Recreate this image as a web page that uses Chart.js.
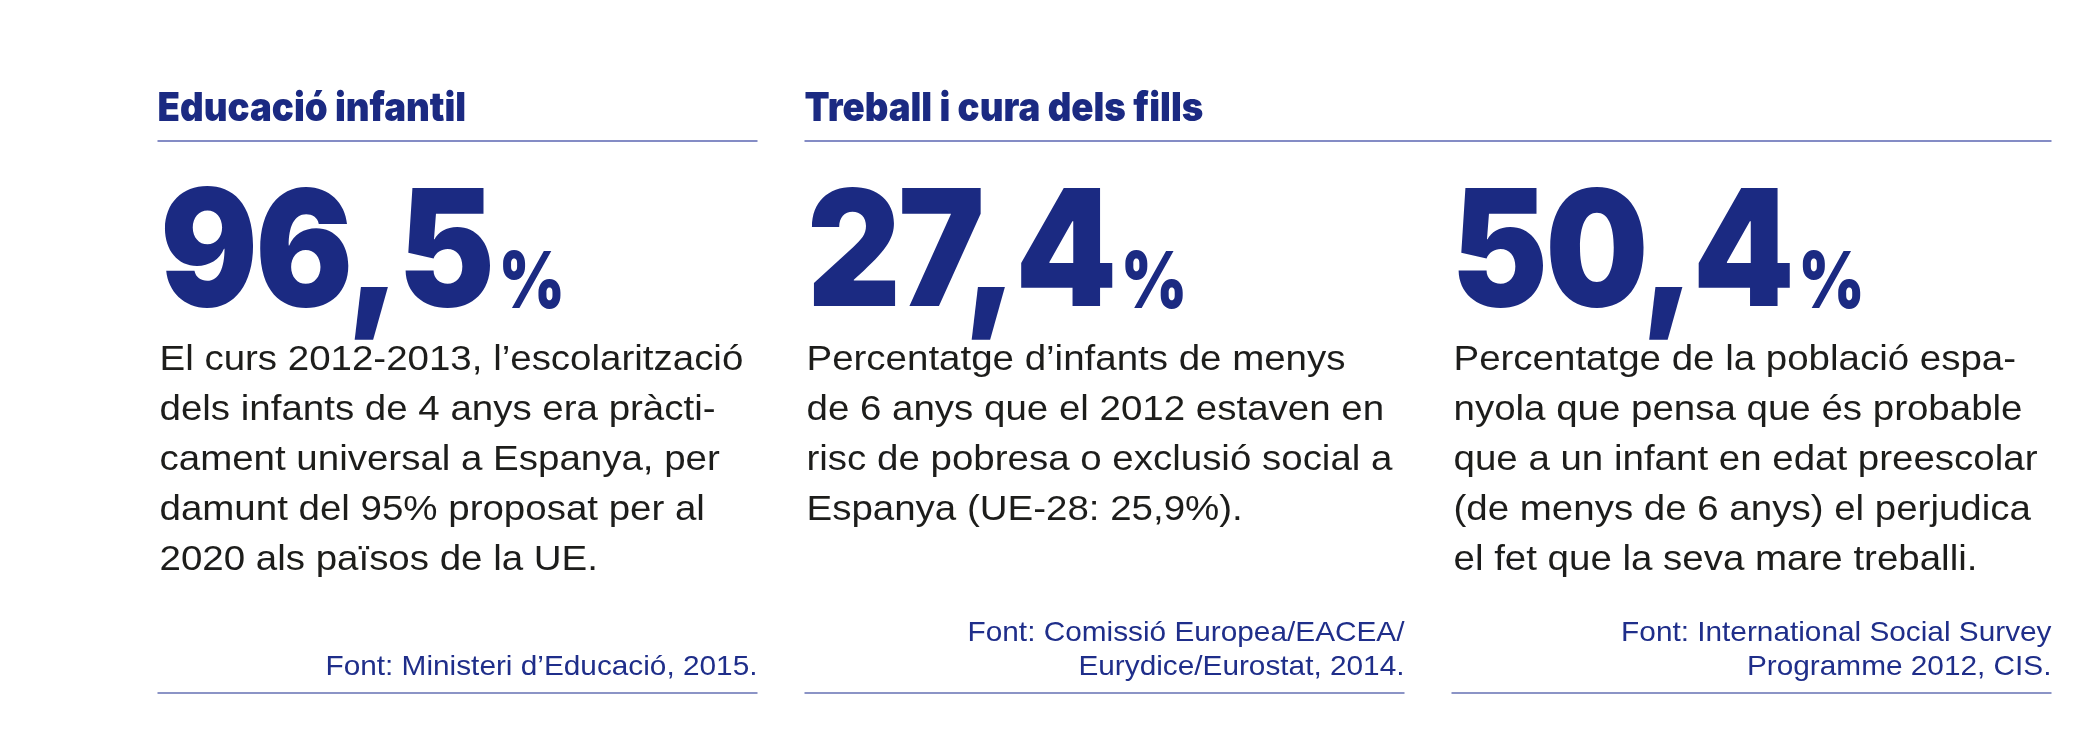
<!DOCTYPE html>
<html lang="ca">
<head>
<meta charset="utf-8">
<title>Educació infantil i treball i cura dels fills</title>
<script src="https://cdn.jsdelivr.net/npm/chart.js@4.4.1/dist/chart.umd.min.js"></script>
<style>
  html, body { margin: 0; padding: 0; background: #ffffff; overflow: hidden; }
  canvas { display: block; }
</style>
</head>
<body>
<canvas id="chart" width="2095" height="733"></canvas>
<script>
// data
const columnLabels = ['Escolarització als 4 anys', 'Risc de pobresa infantil', 'Mare que treballa']
const values = [96.5, 27.4, 50.4]

const sectionTitles = ['Educació infantil', 'Treball i cura dels fills']
const sectionColumns = [1, 2]

const descriptions = [
  ['El curs 2012-2013, l’escolarització',
   'dels infants de 4 anys era pràcti-',
   'cament universal a Espanya, per',
   'damunt del 95% proposat per al',
   '2020 als països de la UE.'],
  ['Percentatge d’infants de menys',
   'de 6 anys que el 2012 estaven en',
   'risc de pobresa o exclusió social a',
   'Espanya (UE-28: 25,9%).'],
  ['Percentatge de la població espa-',
   'nyola que pensa que és probable',
   'que a un infant en edat preescolar',
   '(de menys de 6 anys) el perjudica',
   'el fet que la seva mare treballi.']
]

const sources = [
  ['Font: Ministeri d’Educació, 2015.'],
  ['Font: Comissió Europea/EACEA/', 'Eurydice/Eurostat, 2014.'],
  ['Font: International Social Survey', 'Programme 2012, CIS.']
]

// text styles, each squeezed horizontally to the width of a sample in the reference
const navy = '#1b2a82'
const heavy = 'Inter, Roboto, "DejaVu Sans", sans-serif'
const styles = {
  title:   { font: '900 40px ' + heavy, spacing: '0px', color: navy, sample: 'Educació infantil', sampleWidth: 306 },
  value:   { font: '900 162px ' + heavy, spacing: '-3px', color: navy, sample: '96,5', sampleWidth: 326 },
  percent: { font: '900 78px ' + heavy, spacing: '0px', color: navy, sample: '%', sampleWidth: 58 },
  body:    { font: '400 35px "Liberation Sans", Arial, sans-serif', spacing: '0px', color: '#1d1d1b', sample: 'El curs 2012-2013, l’escolarització', sampleWidth: 580 },
  source:  { font: '400 28px "Liberation Sans", Arial, sans-serif', spacing: '0px', color: '#1f2e8a', sample: 'Font: Ministeri d’Educació, 2015.', sampleWidth: 428 }
}

const formatValue = v => v.toFixed(1).replace('.', ',')

const setFont = (ctx, style) => {
  ctx.font = style.font
  ctx.letterSpacing = style.spacing
}

const scaleOf = (ctx, style) => {
  if (style.sx) return style.sx
  ctx.save()
  setFont(ctx, style)
  const m = ctx.measureText(style.sample)
  ctx.restore()
  style.sx = style.sampleWidth / (m.actualBoundingBoxLeft + m.actualBoundingBoxRight)
  return style.sx
}

const measure = (ctx, style, text) => {
  ctx.save()
  setFont(ctx, style)
  const m = ctx.measureText(text)
  ctx.restore()
  return m
}

const drawText = (ctx, style, text, x, y, align) => {
  const sx = scaleOf(ctx, style)
  ctx.save()
  setFont(ctx, style)
  ctx.fillStyle = style.color
  ctx.textAlign = align || 'left'
  ctx.textBaseline = 'alphabetic'
  ctx.translate(x, y)
  ctx.scale(sx, 1)
  ctx.fillText(text, 0, 0)
  ctx.restore()
}

const drawRule = (ctx, x1, x2, y, color, width) => {
  ctx.save()
  ctx.strokeStyle = color
  ctx.lineWidth = width
  ctx.beginPath()
  ctx.moveTo(x1, y)
  ctx.lineTo(x2, y)
  ctx.stroke()
  ctx.restore()
}

const panelsPlugin = {
  id: 'panels',
  afterDatasetsDraw(chart) {
    const ctx = chart.ctx
    const bars = chart.getDatasetMeta(0).data
    const cols = bars.map(b => ({ left: b.x - b.width / 2, right: b.x + b.width / 2 }))

    // section headings and their rules
    let first = 0
    sectionTitles.forEach((title, i) => {
      const last = first + sectionColumns[i] - 1
      const tsx = scaleOf(ctx, styles.title)
      const tm = measure(ctx, styles.title, title)
      drawText(ctx, styles.title, title, cols[first].left + 1 + tm.actualBoundingBoxLeft * tsx, 121)
      drawRule(ctx, cols[first].left, cols[last].right, 141, '#5b66b2', 1.5)
      first = last + 1
    })

    cols.forEach((col, i) => {
      // big number and its small percent sign
      const text = formatValue(values[i])
      const vs = scaleOf(ctx, styles.value)
      const m = measure(ctx, styles.value, text)
      const x0 = col.left + 7 + m.actualBoundingBoxLeft * vs
      drawText(ctx, styles.value, text, x0, 306)
      const ps = scaleOf(ctx, styles.percent)
      const pm = measure(ctx, styles.percent, '%')
      drawText(ctx, styles.percent, '%', x0 + m.actualBoundingBoxRight * vs + 12 + pm.actualBoundingBoxLeft * ps, 308)

      // description lines
      descriptions[i].forEach((line, j) => {
        drawText(ctx, styles.body, line, col.left + 2, 370 + j * 50)
      })

      // source, right aligned, bottom lines on a common baseline
      const src = sources[i]
      src.forEach((line, j) => {
        drawText(ctx, styles.source, line, col.right, 675 - (src.length - 1 - j) * 34, 'right')
      })

      drawRule(ctx, col.left, col.right, 693, '#8b94c6', 2)
    })
  }
}

new Chart(document.getElementById('chart'), {
  type: 'bar',
  data: {
    labels: columnLabels,
    datasets: [{
      label: 'Percentatge',
      data: values,
      backgroundColor: 'rgba(0,0,0,0)',
      borderWidth: 0,
      categoryPercentage: 600 / 647,
      barPercentage: 1
    }]
  },
  options: {
    responsive: false,
    animation: false,
    devicePixelRatio: 1,
    layout: { padding: { left: 134, right: 20, top: 0, bottom: 0 } },
    plugins: {
      legend: { display: false },
      tooltip: { enabled: false },
      title: { display: false }
    },
    scales: {
      x: { display: false },
      y: { display: false, min: 0, max: 100 }
    }
  },
  plugins: [panelsPlugin]
})
</script>
</body>
</html>
